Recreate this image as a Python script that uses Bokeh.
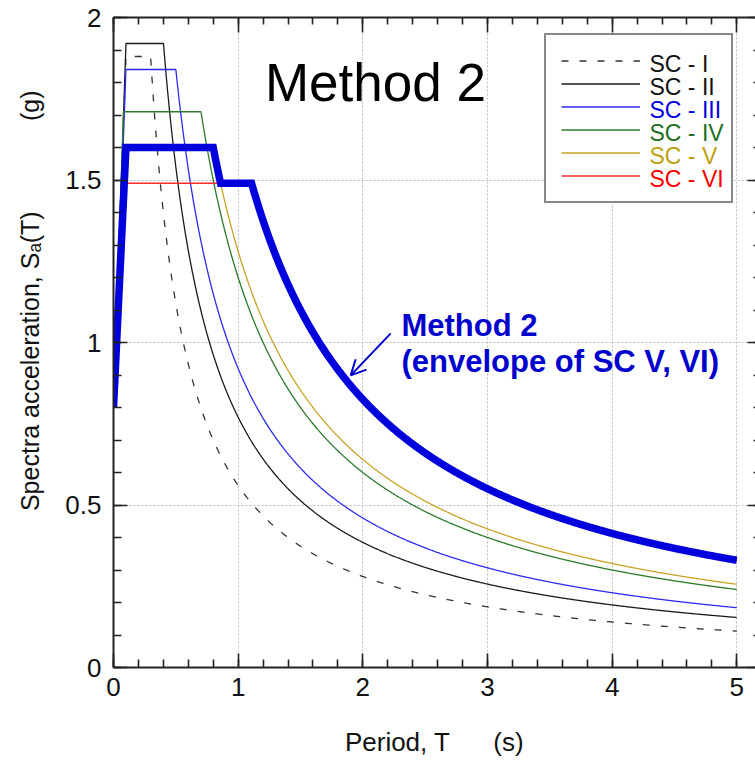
import numpy as np
from bokeh.plotting import figure
from bokeh.models import (Range1d, LinearAxis, FixedTicker, Legend, LegendItem,
                          Label, Arrow, OpenHead, BoxAnnotation)
from bokeh.embed import file_html
from bokeh.resources import INLINE

# ---- design spectrum parameters for each site class ----
site_classes = ["SC - I", "SC - II", "SC - III", "SC - IV", "SC - V", "SC - VI"]
sa_at_zero = [0.80, 0.80, 0.80, 0.80, 0.80, 0.80]      # Sa at T = 0 (g)
t_corner = [0.10, 0.10, 0.10, 0.08, 0.10, 0.10]        # end of the rising branch (s)
sds = [1.88, 1.92, 1.84, 1.71, 1.60, 1.49]             # plateau value (g)
sd1 = [0.56, 0.77, 0.92, 1.20, 1.28, 1.65]             # 1/T branch coefficient (g*s)
envelope_members = ["SC - V", "SC - VI"]               # Method 2 = envelope of these

x_ticks = [0, 1, 2, 3, 4, 5]
y_ticks = [0, 0.5, 1, 1.5, 2]
y_tick_text = ["0", "0.5", "1", "1.5", "2"]

# ---- styling ----
line_colors = ["#333333", "#1a1a1a", "#2b2bf0", "#2a7a2a", "#c9a224", "#ff2b2b"]
line_dashes = ["7 11", "solid", "solid", "solid", "solid", "solid"]
text_colors = ["#111111", "#111111", "#0000e0", "#1e6e1e", "#c0a010", "#ff0000"]
env_color = "#0000dd"
FONT = "Liberation Sans"

W, H = 755, 760
BL, BR, BT, BB = 113, 0, 17, 93
X_END, Y_END = 5.15, 2.0
FW, FH = W - BL - BR, H - BT - BB


def spectrum(T, a0, t0, s_ds, s_d1):
    ts = s_d1 / s_ds
    rise = a0 + (s_ds - a0) * T / t0
    fall = s_d1 / np.maximum(T, 1e-9)
    return np.where(T < t0, rise, np.where(T <= ts, s_ds, fall))


# period grid with every corner period included
corners = list(t_corner) + [b / a for a, b in zip(sds, sd1)]
iv, ivi = site_classes.index("SC - V"), site_classes.index("SC - VI")
corners.append(sd1[iv] / sds[ivi])
T = np.unique(np.concatenate([np.linspace(0, 5, 1001), corners]))
curves = [spectrum(T, a, t, s, d) for a, t, s, d in zip(sa_at_zero, t_corner, sds, sd1)]
envelope = np.maximum.reduce([curves[site_classes.index(n)] for n in envelope_members])

p = figure(width=W, height=H, x_range=Range1d(0, X_END), y_range=Range1d(0, Y_END),
           output_backend="svg", toolbar_location=None,
           min_border_left=BL, min_border_right=BR, min_border_top=BT, min_border_bottom=BB,
           outline_line_color=None, background_fill_color="white", border_fill_color="white")

x_minor = [round(v, 2) for v in np.arange(0, 5.15, 0.2)]
y_minor = [round(v, 2) for v in np.arange(0, 2.01, 0.1)]
xt = FixedTicker(ticks=x_ticks, minor_ticks=x_minor)
yt = FixedTicker(ticks=y_ticks, minor_ticks=y_minor)


def style_axis(ax, major_in=14, minor_in=8, line=True):
    ax.major_tick_in = major_in
    ax.major_tick_out = 0
    ax.minor_tick_in = minor_in
    ax.minor_tick_out = 0
    ax.major_tick_line_width = 1.6
    ax.minor_tick_line_width = 1.6
    ax.major_tick_line_color = "#222222"
    ax.minor_tick_line_color = "#222222"
    ax.axis_line_width = 2
    ax.axis_line_color = "#222222" if line else None
    ax.major_label_text_font = FONT
    ax.major_label_text_color = "#111111"
    ax.axis_label_text_font = FONT
    ax.axis_label_text_font_style = "normal"
    ax.axis_label_text_color = "#111111"


xa = p.xaxis[0]
ya = p.yaxis[0]
xa.ticker = xt
ya.ticker = yt
style_axis(xa)
style_axis(ya)
xa.major_label_text_font_size = "26px"
ya.major_label_text_font_size = "26px"
xa.major_label_standoff = 10
ya.major_label_standoff = 12
ya.major_label_overrides = {t: s for t, s in zip(y_ticks, y_tick_text)}
nb = "\u00a0"
xa.axis_label = "Period, T" + nb * 6 + "(s)"
xa.axis_label_text_font_size = "26px"
xa.axis_label_standoff = 28
ya.axis_label = nb * 12 + "Spectra acceleration, S\u2090(T)" + nb * 13 + "(g)"
ya.axis_label_text_font_size = "25px"
ya.axis_label_standoff = 18

# tick-only frame edges at top and right
top = LinearAxis(ticker=xt, major_label_text_font_size="0px", major_label_standoff=0)
style_axis(top, major_in=15, minor_in=7)
top.major_label_text_color = None
p.add_layout(top, "above")
right = LinearAxis(ticker=yt, major_label_text_font_size="0px", major_label_standoff=0)
style_axis(right, major_in=8, minor_in=2, line=False)
right.major_label_text_color = None
p.add_layout(right, "right")

for g, tk in ((p.xgrid[0], x_ticks), (p.ygrid[0], y_ticks)):
    g.ticker = FixedTicker(ticks=tk)
    g.grid_line_color = "#bdbdbd"
    g.grid_line_dash = "2 2"
    g.grid_line_width = 1

# legend geometry (screen px, relative to the frame's lower-left corner)
pad, gw, gh, sp, stand, lw = 15, 79, 21, 2, 10, 66
leg_x, leg_y = 431, 464
leg_w = 2 * pad + gw + stand + lw
leg_h = 2 * pad + len(site_classes) * gh + (len(site_classes) - 1) * sp


def dx(px):
    return px / FW * X_END


def dy(px):
    return px / FH * Y_END


# white backing for the legend, above the grid but below everything else
p.add_layout(BoxAnnotation(left=dx(leg_x), right=dx(leg_x + leg_w + 4),
                           bottom=dy(leg_y), top=dy(leg_y + leg_h + 2),
                           fill_color="white", fill_alpha=1, line_color=None,
                           level="underlay"))

# site class spectra
renderers = []
for name, sa, c, d in zip(site_classes, curves, line_colors, line_dashes):
    renderers.append(p.line(T, sa, line_color=c, line_width=1.3, line_dash=d))

# Method 2 envelope
p.line(T, envelope, line_color=env_color, line_width=7.5, line_join="miter", line_cap="butt")

# legend frame and line samples; the coloured labels are separate Label annotations
legend = Legend(items=[LegendItem(label=n, renderers=[r]) for n, r in zip(site_classes, renderers)],
                location=(leg_x, leg_y), padding=pad, margin=0, spacing=sp,
                glyph_width=gw, glyph_height=gh, label_height=gh, label_width=lw,
                label_standoff=stand, label_text_font_size="12px", label_text_color=None,
                border_line_color="#111111", border_line_width=2.2,
                background_fill_color="white", background_fill_alpha=0)
p.add_layout(legend)
for k, (n, c) in enumerate(zip(site_classes, text_colors)):
    row_y = leg_y + leg_h - pad - gh / 2 - k * (gh + sp) - 1
    p.add_layout(Label(x=dx(leg_x + pad + gw + stand + 1), y=dy(row_y), text=n, text_color=c,
                       text_font=FONT, text_font_size="23px", level="overlay",
                       text_align="left", text_baseline="middle"))

# titles and annotation
p.add_layout(Label(x=1.215, y=1.80, text="Method 2", text_font=FONT, text_font_size="53px",
                   text_color="#000000", text_align="left", text_baseline="alphabetic"))
p.add_layout(Label(x=2.31, y=1.052, text="Method 2", text_font=FONT, text_font_size="31px",
                   text_font_style="bold", text_color="#0000cc",
                   text_align="left", text_baseline="alphabetic"))
p.add_layout(Label(x=2.31, y=0.943, text="(envelope of SC V, VI)", text_font=FONT,
                   text_font_size="31px", text_font_style="bold", text_color="#0000cc",
                   text_align="left", text_baseline="alphabetic"))
p.add_layout(Arrow(x_start=2.224, y_start=1.028, x_end=1.903, y_end=0.899,
                   line_color="#0000cc", line_width=2,
                   end=OpenHead(size=15, line_color="#0000cc", line_width=2)))

open("out.html", "w").write(file_html(p, INLINE))
